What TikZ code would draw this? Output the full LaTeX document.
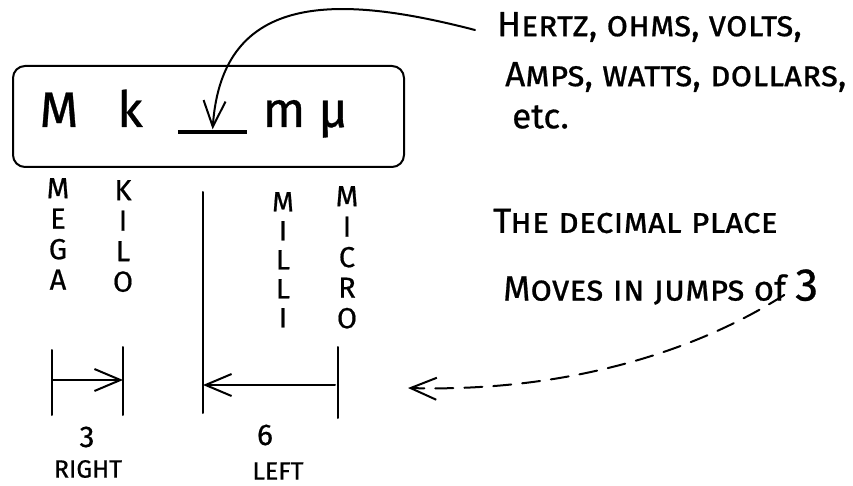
\documentclass[tikz,border=0pt]{standalone}
\usepackage{fontspec}
\setmainfont{Fira Sans}[FakeBold=0.6]
\usetikzlibrary{arrows.meta}
\tikzset{>={Straight Barb[length=26pt,width=22pt]}}
\tikzset{
  hand/.style={line width=2pt, line cap=round},
  prefixletter/.style={font=\fontsize{50}{50}\selectfont, anchor=base, inner sep=0pt},
  spellword/.style={font=\fontsize{29}{30.5}\selectfont, align=center, anchor=north, inner sep=0pt},
  notetext/.style={font=\fontsize{35}{35}\selectfont, anchor=west, inner sep=0pt},
  countlabel/.style={font=\fontsize{30}{30}\selectfont, inner sep=0pt},
}

\begin{document}
\begin{tikzpicture}[x=1pt,y=-1pt]
  \useasboundingbox (0,0) rectangle (853,486);
  % the prefix row in its box
  \node[draw, hand, rounded corners=12pt, minimum width=391pt, minimum height=101pt, inner sep=0pt] (prefixbox) at (208.5,116.5) {};
  \node[prefixletter] (mega) at (59,127) {M};
  \node[prefixletter] (kilo) at (130,127) {k};
  \node[minimum width=69pt, inner sep=0pt] (blank) at (212.5,132) {};
  \draw[line width=4.5pt] (blank.west) -- (blank.east);
  \node[prefixletter] (milli) at (284,127) {m};
  \node[prefixletter] (micro) at (333,127) {μ};
  % spelled out under the row
  \node[spellword] (megaword) at (58,178) {M\\E\\G\\A};
  \node[spellword] (kiloword) at (123,180) {K\\I\\L\\O};
  \node[spellword, font=\fontsize{28}{29}\selectfont] (milliword) at (283,192) {M\\I\\L\\L\\I};
  \node[spellword] (microword) at (347,186) {M\\I\\C\\R\\O};
  % notes on the right
  \node[notetext] (units1) at (497,27) {\textsc{Hertz, ohms, volts,}};
  \node[notetext] (units2) at (505,77) {\textsc{Amps, watts, dollars,}};
  \node[notetext] (units3) at (512,117) {etc.};
  \node[notetext] (decimal) at (493,221) {\textsc{The decimal place}};
  \node[notetext] (jumps) at (503,287) {\textsc{Moves in jumps} of {\fontsize{46}{46}\selectfont 3}};
  \draw[hand,->,shorten >=2pt] ([xshift=-22pt,yshift=-3pt]units1.west) .. controls (340,-5) and (222,-10) .. (blank.north);
  % where the point goes
  \draw[hand] (203,192) -- (203,413);
  \draw[hand] (52,350) -- (52,415);
  \draw[hand] (123,347) -- (123,415);
  \draw[hand] (338,347) -- (338,418);
  \coordinate (right0) at (52,380);
  \coordinate (right3) at (123,380);
  \coordinate (left0) at (335,385);
  \coordinate (left6) at (203,385);
  \draw[hand,->] (right0) -- (right3);
  \draw[hand,->] (left0) -- (left6);
  \node[countlabel] (three) at (87,437) {3};
  \node[countlabel, font=\fontsize{25}{25}\selectfont] (rightlbl) at (88,469) {RIGHT};
  \node[countlabel] (six) at (265,435) {6};
  \node[countlabel, font=\fontsize{25}{25}\selectfont] (leftlbl) at (278,471) {LEFT};
  \coordinate (dashend) at (408,388);
  \draw[hand, dash pattern=on 18pt off 11pt, ->] ([xshift=-34pt,yshift=10pt]jumps.south east) .. controls (690,355) and (560,392) .. (dashend);
\end{tikzpicture}
\end{document}
